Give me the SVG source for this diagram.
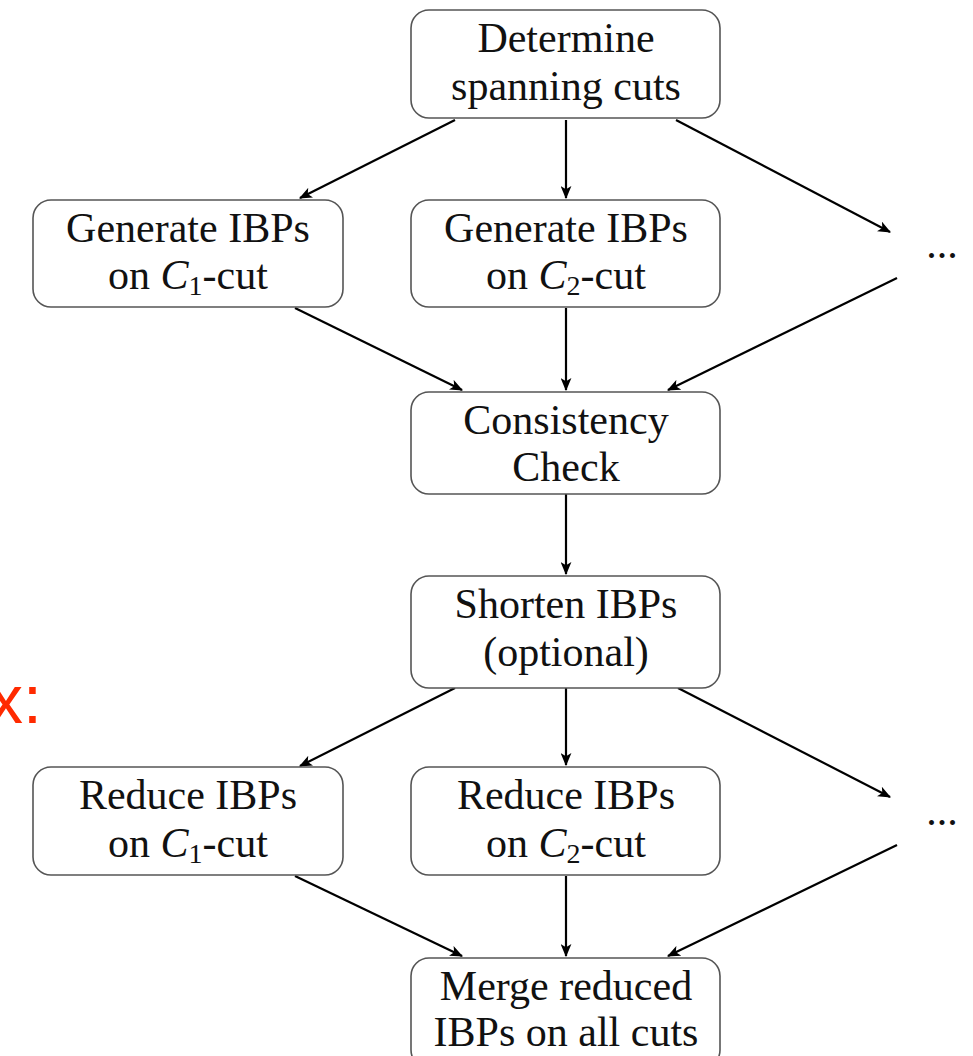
<svg xmlns="http://www.w3.org/2000/svg" width="973" height="1056" viewBox="0 0 973 1056">
<defs>
<marker id="ah" viewBox="0 0 12 10" refX="11" refY="5" markerWidth="13" markerHeight="11" markerUnits="userSpaceOnUse" orient="auto">
<path d="M0,0 L12,5 L0,10 L3,5 Z" fill="#000"/>
</marker>
<style>
.box{fill:#fff;stroke:#555;stroke-width:1.6}
.t{font-family:"Liberation Serif",serif;font-size:42px;fill:#111;text-anchor:middle}
.e{stroke:#000;stroke-width:2.2;fill:none;marker-end:url(#ah)}
.c{font-style:italic}
.s{font-size:28px}
</style>
</defs>
<rect width="973" height="1056" fill="#fff"/>
<text x="-11" y="723" font-family="Liberation Sans, sans-serif" font-size="68" fill="#ff2a00">x:</text>
<g id="edges">
<line class="e" x1="455" y1="120" x2="300" y2="198"/>
<line class="e" x1="566" y1="120" x2="566" y2="198"/>
<line class="e" x1="676" y1="120" x2="890" y2="232"/>
<line class="e" x1="295" y1="308" x2="462" y2="390"/>
<line class="e" x1="566" y1="308" x2="566" y2="390"/>
<line class="e" x1="897" y1="278" x2="668" y2="390"/>
<line class="e" x1="566" y1="494" x2="566" y2="574"/>
<line class="e" x1="455" y1="688" x2="300" y2="766"/>
<line class="e" x1="566" y1="688" x2="566" y2="765"/>
<line class="e" x1="678" y1="688" x2="890" y2="797"/>
<line class="e" x1="295" y1="876" x2="462" y2="956"/>
<line class="e" x1="566" y1="876" x2="566" y2="956"/>
<line class="e" x1="897" y1="845" x2="668" y2="956"/>
</g>
<g id="determine"><rect class="box" x="411" y="10" width="309" height="108" rx="18"/>
<text class="t" x="566" y="52">Determine</text><text class="t" x="566" y="100">spanning cuts</text></g>
<g id="gen1"><rect class="box" x="33" y="200" width="310" height="107" rx="18"/>
<text class="t" x="188" y="242">Generate IBPs</text><text class="t" x="188" y="289">on <tspan class="c">C</tspan><tspan class="s" dy="6">1</tspan><tspan dy="-6">-cut</tspan></text></g>
<g id="gen2"><rect class="box" x="411" y="200" width="309" height="107" rx="18"/>
<text class="t" x="566" y="242">Generate IBPs</text><text class="t" x="566" y="289">on <tspan class="c">C</tspan><tspan class="s" dy="6">2</tspan><tspan dy="-6">-cut</tspan></text></g>
<g id="dots1"><text class="t" x="942" y="258" font-size="34">...</text></g>
<g id="consistency"><rect class="box" x="411" y="392" width="309" height="102" rx="18"/>
<text class="t" x="566" y="434">Consistency</text><text class="t" x="566" y="481">Check</text></g>
<g id="shorten"><rect class="box" x="411" y="576" width="309" height="112" rx="18"/>
<text class="t" x="566" y="618">Shorten IBPs</text><text class="t" x="566" y="666">(optional)</text></g>
<g id="red1"><rect class="box" x="33" y="767" width="310" height="108" rx="18"/>
<text class="t" x="188" y="809">Reduce IBPs</text><text class="t" x="188" y="857">on <tspan class="c">C</tspan><tspan class="s" dy="6">1</tspan><tspan dy="-6">-cut</tspan></text></g>
<g id="red2"><rect class="box" x="411" y="767" width="309" height="108" rx="18"/>
<text class="t" x="566" y="809">Reduce IBPs</text><text class="t" x="566" y="857">on <tspan class="c">C</tspan><tspan class="s" dy="6">2</tspan><tspan dy="-6">-cut</tspan></text></g>
<g id="dots2"><text class="t" x="942" y="825" font-size="34">...</text></g>
<g id="merge"><rect class="box" x="411" y="958" width="309" height="110" rx="18"/>
<text class="t" x="566" y="1000">Merge reduced</text><text class="t" x="566" y="1046">IBPs on all cuts</text></g>
</svg>
